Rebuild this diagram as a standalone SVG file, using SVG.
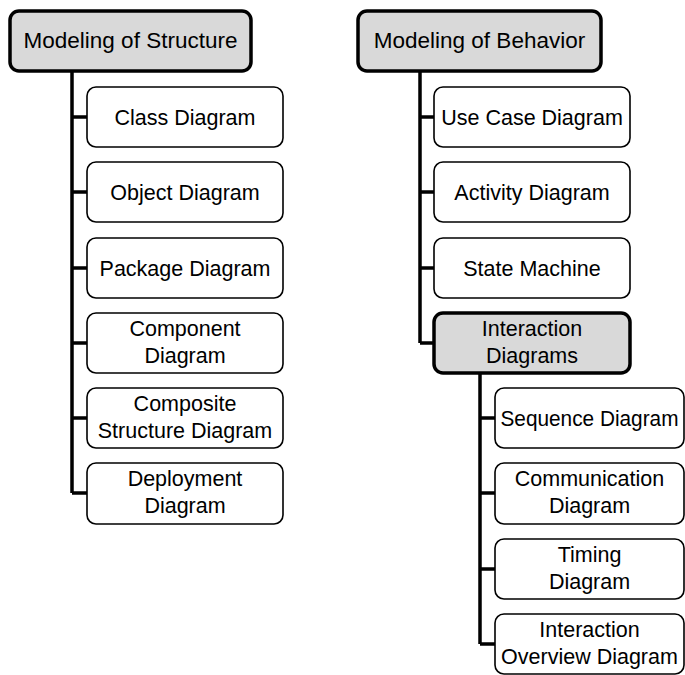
<svg xmlns="http://www.w3.org/2000/svg" width="685" height="675" viewBox="0 0 685 675">
<style>
.top{fill:#d9d9d9;stroke:#000;stroke-width:3.5}
.box{fill:#fff;stroke:#000;stroke-width:1.6}
.con{fill:none;stroke:#000;stroke-width:3.5}
text{font-family:"Liberation Sans",Arial,sans-serif;font-size:21.5px;fill:#000;text-anchor:middle}
.h{font-size:22.5px}
</style>
<rect width="685" height="675" fill="#fff"/>
<g id="connectors">
<path class="con" d="M72,71 V493 M72,117 H87 M72,192 H87 M72,268 H87 M72,343 H87 M72,418 H87 M72,493 H87"/>
<path class="con" d="M420,71 V343 M420,117 H434 M420,192 H434 M420,268 H434 M420,343 H434"/>
<path class="con" d="M480,373 V644 M480,418 H495 M480,493 H495 M480,569 H495 M480,644 H495"/>
</g>
<g id="structure"><rect class="top" x="10" y="11" width="241" height="60" rx="9"/><text class="h" x="130.5" y="48">Modeling of Structure</text></g>
<g id="class"><rect class="box" x="87" y="87" width="196" height="60" rx="9"/><text x="185" y="125">Class Diagram</text></g>
<g id="object"><rect class="box" x="87" y="162" width="196" height="60" rx="9"/><text x="185" y="200">Object Diagram</text></g>
<g id="package"><rect class="box" x="87" y="238" width="196" height="60" rx="9"/><text x="185" y="276">Package Diagram</text></g>
<g id="component"><rect class="box" x="87" y="313" width="196" height="60" rx="9"/><text x="185" y="336">Component</text><text x="185" y="363">Diagram</text></g>
<g id="composite"><rect class="box" x="87" y="388" width="196" height="60" rx="9"/><text x="185" y="411">Composite</text><text x="185" y="438">Structure Diagram</text></g>
<g id="deployment"><rect class="box" x="87" y="463" width="196" height="61" rx="9"/><text x="185" y="486">Deployment</text><text x="185" y="513">Diagram</text></g>
<g id="behavior"><rect class="top" x="358" y="11" width="243" height="60" rx="9"/><text class="h" x="479.5" y="48">Modeling of Behavior</text></g>
<g id="usecase"><rect class="box" x="434" y="87" width="196" height="60" rx="9"/><text x="532" y="125">Use Case Diagram</text></g>
<g id="activity"><rect class="box" x="434" y="162" width="196" height="60" rx="9"/><text x="532" y="200">Activity Diagram</text></g>
<g id="statemachine"><rect class="box" x="434" y="238" width="196" height="60" rx="9"/><text x="532" y="276">State Machine</text></g>
<g id="interaction"><rect class="top" x="434" y="313" width="196" height="60" rx="9"/><text x="532" y="336">Interaction</text><text x="532" y="363">Diagrams</text></g>
<g id="sequence"><rect class="box" x="495" y="388" width="189" height="60" rx="9"/><text x="589.5" y="426" textLength="178" lengthAdjust="spacingAndGlyphs">Sequence Diagram</text></g>
<g id="communication"><rect class="box" x="495" y="463" width="189" height="61" rx="9"/><text x="589.5" y="486">Communication</text><text x="589.5" y="513">Diagram</text></g>
<g id="timing"><rect class="box" x="495" y="539" width="189" height="60" rx="9"/><text x="589.5" y="562">Timing</text><text x="589.5" y="589">Diagram</text></g>
<g id="overview"><rect class="box" x="495" y="614" width="189" height="60" rx="9"/><text x="589.5" y="637">Interaction</text><text x="589.5" y="664">Overview Diagram</text></g>
</svg>
